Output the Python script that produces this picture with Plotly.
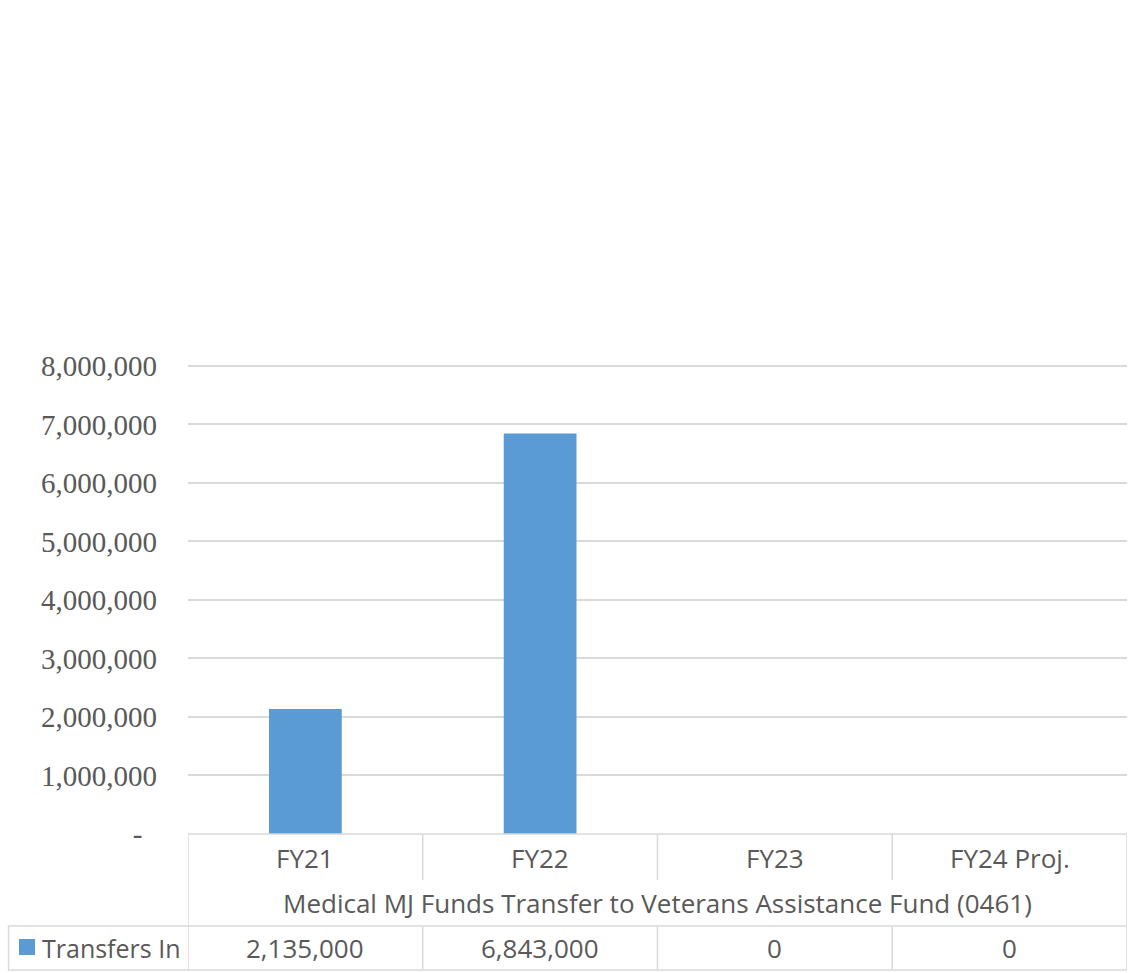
import plotly.graph_objects as go

categories = ["FY21", "FY22", "FY23", "FY24 Proj."]
transfers_in = [2135000, 6843000, 0, 0]
group_label = "Medical MJ Funds Transfer to Veterans Assistance Fund (0461)"
series_name = "Transfers In"
y_ticks = [0, 1000000, 2000000, 3000000, 4000000, 5000000, 6000000, 7000000, 8000000]

# body margin removed by post_script, so page pixels == figure pixels
W, H = 1129, 973
L, R, T, B = 188, 2, 363, 139
plot_h = H - T - B
plot_w = W - L - R
YMAX = 8050000

def py(p):
    # page pixel row -> paper y
    return (H - B - p) / plot_h

def px(p):
    return (p - L) / plot_w

BAR = "#5b9bd5"
TXT = "#595959"
GRID = "#d9d9d9"
sans = "Open Sans"
FS = 26

fig = go.Figure()
fig.add_trace(go.Bar(x=list(range(len(categories))), y=transfers_in, marker_color=BAR,
                     marker_line_width=0, name=series_name, showlegend=False, hoverinfo="skip"))

ticktext = ["-\u00a0\u00a0"] + [f"{v:,}" for v in y_ticks[1:]]

shapes = []
line = dict(color=GRID, width=1.5)
shapes.append(dict(type="line", xref="paper", yref="paper", x0=0, x1=1, y0=0, y1=0, line=line))
n = len(categories)
for i in range(n + 1):
    xb = i - 0.5
    y1 = py(926) if (i == 0 or i == n) else py(880)
    shapes.append(dict(type="line", xref="x", yref="paper", x0=xb, x1=xb, y0=0, y1=y1, line=line))
for yy in (926, 970):
    shapes.append(dict(type="line", xref="paper", yref="paper", x0=px(8), x1=1, y0=py(yy), y1=py(yy), line=line))
shapes.append(dict(type="line", xref="paper", yref="paper", x0=px(8.5), x1=px(8.5), y0=py(926), y1=py(970), line=line))
for i in range(n + 1):
    xb = i - 0.5
    shapes.append(dict(type="line", xref="x", yref="paper", x0=xb, x1=xb, y0=py(926), y1=py(970), line=line))
shapes.append(dict(type="rect", xref="paper", yref="paper", x0=px(19), x1=px(35), y0=py(939), y1=py(955),
                   fillcolor=BAR, line=dict(width=0)))

annotations = []
for i, c in enumerate(categories):
    annotations.append(dict(x=i, y=py(858), xref="x", yref="paper", text=c, showarrow=False,
                            font=dict(family=sans, size=FS, color=TXT), xanchor="center", yanchor="middle"))
    annotations.append(dict(x=i, y=py(948), xref="x", yref="paper", text=f"{transfers_in[i]:,}", showarrow=False,
                            font=dict(family=sans, size=FS, color=TXT), xanchor="center", yanchor="middle"))
annotations.append(dict(x=(n - 1) / 2, y=py(903), xref="x", yref="paper", text=group_label, showarrow=False,
                        font=dict(family=sans, size=FS, color=TXT), xanchor="center", yanchor="middle"))
annotations.append(dict(x=px(40), y=py(948), xref="paper", yref="paper", text=series_name, showarrow=False,
                        font=dict(family=sans, size=25, color=TXT), xanchor="left", yanchor="middle"))

fig.update_layout(
    width=W, height=H,
    margin=dict(l=L, r=R, t=T, b=B, pad=0),
    paper_bgcolor="white", plot_bgcolor="white",
    bargap=0.69,
    shapes=shapes,
    annotations=annotations,
    xaxis=dict(range=[-0.5, n - 0.5], showticklabels=False, showgrid=False, zeroline=False,
               showline=False, ticks=""),
    yaxis=dict(range=[0, YMAX], tickvals=y_ticks, ticktext=ticktext,
               tickfont=dict(family="Liberation Serif", size=29, color=TXT),
               showgrid=True, gridcolor=GRID, gridwidth=1.5, zeroline=False, showline=False,
               ticks="", ticklabelstandoff=30),
)

fig.write_html("out.html", config={"displayModeBar": False},
               post_script="document.body.style.margin='0';document.body.style.overflow='hidden';")
